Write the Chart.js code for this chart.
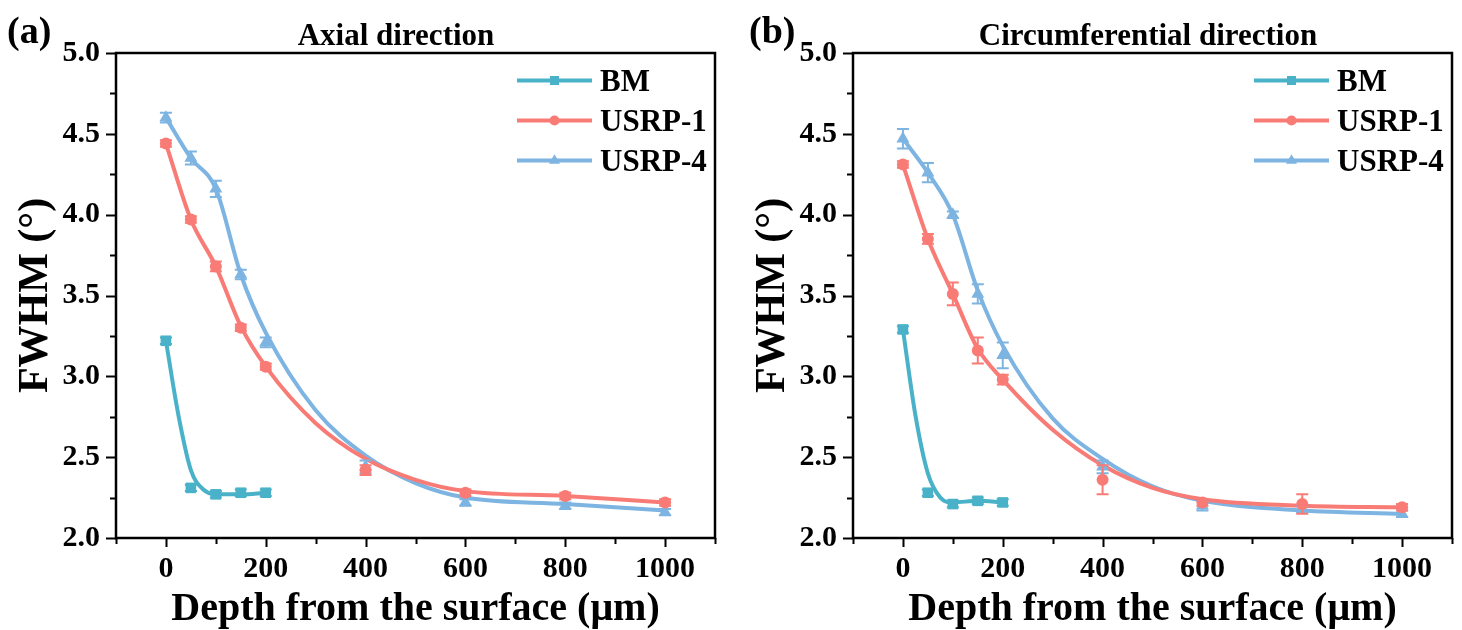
<!DOCTYPE html>
<html><head><meta charset="utf-8">
<script src="https://cdn.jsdelivr.net/npm/chart.js@4.4.1/dist/chart.umd.min.js"></script>
<style>
html,body{margin:0;padding:0;background:#fff;width:1462px;height:630px;overflow:hidden}
.w{position:absolute;top:0;width:725px;height:630px}
#wa{left:0}
#wb{left:737px}
</style></head><body>
<div class="w" id="wa"><canvas id="ca" width="725" height="630"></canvas></div>
<div class="w" id="wb"><canvas id="cb" width="725" height="630"></canvas></div>
<script>
// ---------- data ----------
const depth = [0, 50, 100, 150, 200, 400, 600, 800, 1000];
const bmDepth = [0, 50, 100, 150, 200];
const bmCurveDepth = [0, 25, 50, 75, 100, 150, 200];
const curveDepth = [0, 50, 100, 150, 200, 300, 400, 500, 600, 800, 1000];
const xTickValues = [0, 200, 400, 600, 800, 1000];
const yTickValues = [2.0, 2.5, 3.0, 3.5, 4.0, 4.5, 5.0];
const seriesNames = ['BM', 'USRP-1', 'USRP-4'];

// (a) Axial direction
const aBM = [3.22, 2.31, 2.27, 2.28, 2.28];
const aBMErr = [0.02, 0.02, 0.02, 0.02, 0.02];
const aBMCurve = [3.22, 2.76, 2.42, 2.30, 2.27, 2.27, 2.28];
const aU1 = [4.44, 3.97, 3.68, 3.30, 3.06, 2.42, 2.28, 2.26, 2.22];
const aU1Err = [0.02, 0.02, 0.03, 0.02, 0.02, 0.03, 0.02, 0.02, 0.02];
const aU1Curve = [4.44, 3.97, 3.68, 3.31, 3.06, 2.71, 2.49, 2.36, 2.29, 2.26, 2.22];
const aU4 = [4.60, 4.35, 4.16, 3.63, 3.21, 2.44, 2.22, 2.20, 2.16];
const aU4Err = [0.03, 0.04, 0.05, 0.03, 0.03, 0.04, 0.02, 0.02, 0.02];
const aU4Curve = [4.60, 4.35, 4.16, 3.63, 3.27, 2.79, 2.51, 2.34, 2.25, 2.21, 2.17];

// (b) Circumferential direction
const bBM = [3.29, 2.28, 2.21, 2.23, 2.22];
const bBMErr = [0.02, 0.02, 0.02, 0.02, 0.02];
const bBMCurve = [3.29, 2.76, 2.40, 2.25, 2.22, 2.23, 2.22];
const bU1 = [4.31, 3.85, 3.51, 3.16, 2.98, 2.36, 2.22, 2.21, 2.19];
const bU1Err = [0.02, 0.03, 0.07, 0.08, 0.03, 0.09, 0.02, 0.06, 0.02];
const bU1Curve = [4.31, 3.85, 3.51, 3.17, 2.98, 2.67, 2.45, 2.31, 2.24, 2.20, 2.19];
const bU4 = [4.47, 4.26, 4.00, 3.51, 3.13, 2.44, 2.20, 2.18, 2.15];
const bU4Err = [0.06, 0.06, 0.02, 0.06, 0.08, 0.04, 0.03, 0.02, 0.02];
const bU4Curve = [4.47, 4.26, 4.00, 3.53, 3.19, 2.74, 2.49, 2.32, 2.23, 2.17, 2.15];

// ---------- styles ----------
const FONT = '"Liberation Serif", "DejaVu Serif", "Times New Roman", serif';
const COLORS = {'BM': '#4ab2c8', 'USRP-1': '#f97b76', 'USRP-4': '#7db4e1'};
const PSTYLE = {'BM': 'rect', 'USRP-1': 'circle', 'USRP-4': 'triangle'};
const PRAD = {'BM': 7.5, 'USRP-1': 6, 'USRP-4': 7.5};

function pts(xs, ys) { return xs.map((x, i) => ({x: x, y: ys[i]})); }

const errorBarPlugin = {
  id: 'errbars',
  afterDatasetDraw(chart, args) {
    const ds = chart.data.datasets[args.index];
    if (!ds.errors) return;
    const ctx = chart.ctx, xs = chart.scales.x, ys = chart.scales.y;
    ctx.save();
    ctx.strokeStyle = ds.borderColor;
    ctx.lineWidth = 2;
    ds.data.forEach((p, i) => {
      const e = ds.errors[i];
      const px = xs.getPixelForValue(p.x);
      const y1 = ys.getPixelForValue(p.y + e), y2 = ys.getPixelForValue(p.y - e);
      ctx.beginPath();
      ctx.moveTo(px, y1); ctx.lineTo(px, y2);
      ctx.moveTo(px - 6, y1); ctx.lineTo(px + 6, y1);
      ctx.moveTo(px - 6, y2); ctx.lineTo(px + 6, y2);
      ctx.stroke();
    });
    ctx.restore();
  }
};

const decoPlugin = {
  id: 'deco',
  afterDraw(chart) {
    const o = chart.options.plugins.deco;
    const ctx = chart.ctx, a = chart.chartArea, xs = chart.scales.x, ys = chart.scales.y;
    ctx.save();
    ctx.strokeStyle = '#000';
    ctx.lineWidth = 2.5;
    ctx.strokeRect(a.left, a.top, a.right - a.left, a.bottom - a.top);
    ctx.lineWidth = 2;
    ctx.beginPath();
    for (let v = 2.0; v <= 5.0001; v += 0.25) {
      const py = Math.round(ys.getPixelForValue(v)) + 0.5;
      const major = Math.abs(v * 2 - Math.round(v * 2)) < 1e-6;
      ctx.moveTo(a.left, py); ctx.lineTo(a.left - (major ? 10 : 6), py);
    }
    for (let v = -100; v <= 1100; v += 100) {
      const px = Math.round(xs.getPixelForValue(v)) + 0.5;
      const major = v % 200 === 0;
      ctx.moveTo(px, a.bottom); ctx.lineTo(px, a.bottom + (major ? 9 : 6));
    }
    ctx.stroke();
    ctx.fillStyle = '#000';
    ctx.font = 'bold 38px ' + FONT;
    ctx.textAlign = 'left'; ctx.textBaseline = 'alphabetic';
    ctx.fillText(o.label, o.labelX, 43);
    ctx.font = 'bold 31px ' + FONT;
    ctx.textAlign = 'center';
    ctx.fillText(o.title, o.titleX, 45);
    ctx.font = 'bold 40px ' + FONT;
    ctx.fillText('Depth from the surface (\u03bcm)', (a.left + a.right) / 2, 620);
    ctx.save();
    ctx.translate(47, (a.top + a.bottom) / 2);
    ctx.rotate(-Math.PI / 2);
    ctx.font = 'bold 42px ' + FONT;
    ctx.fillText('FWHM (\u00b0)', 0, 0);
    ctx.restore();
    const rows = [80.5, 120.5, 160.5];
    seriesNames.forEach((n, i) => {
      const y = rows[i];
      ctx.strokeStyle = COLORS[n];
      ctx.fillStyle = COLORS[n];
      ctx.lineWidth = 4;
      ctx.beginPath(); ctx.moveTo(517, y); ctx.lineTo(592, y); ctx.stroke();
      Chart.helpers.drawPoint(ctx, {pointStyle: PSTYLE[n], radius: PRAD[n] * 0.85, rotation: 0, borderWidth: 0}, 554.5, y);
      ctx.fillStyle = '#000';
      ctx.font = 'bold 31px ' + FONT;
      ctx.textAlign = 'left';
      ctx.fillText(n, 600, y + 10.5);
    });
    ctx.restore();
  }
};

function makeChart(id, p) {
  const curves = [
    {name: 'BM', xs: bmCurveDepth, ys: p.bmCurve},
    {name: 'USRP-1', xs: curveDepth, ys: p.u1Curve},
    {name: 'USRP-4', xs: curveDepth, ys: p.u4Curve}
  ];
  const marks = [
    {name: 'BM', xs: bmDepth, ys: p.bm, err: p.bmErr},
    {name: 'USRP-1', xs: depth, ys: p.u1, err: p.u1Err},
    {name: 'USRP-4', xs: depth, ys: p.u4, err: p.u4Err}
  ];
  const datasets = [];
  curves.forEach(c => datasets.push({
    label: c.name + ' fit', data: pts(c.xs, c.ys), showLine: true,
    borderColor: COLORS[c.name], borderWidth: 4, pointRadius: 0,
    cubicInterpolationMode: 'monotone', order: 2, fill: false
  }));
  marks.forEach(m => datasets.push({
    label: m.name, data: pts(m.xs, m.ys), showLine: false,
    borderColor: COLORS[m.name], backgroundColor: COLORS[m.name],
    pointStyle: PSTYLE[m.name], pointRadius: PRAD[m.name], pointBorderWidth: 0,
    errors: m.err, order: 1
  }));
  const tickFont = {family: FONT, size: 30, weight: 'bold'};
  return new Chart(document.getElementById(id), {
    type: 'scatter',
    data: {datasets: datasets},
    options: {
      responsive: false, animation: false, events: [],
      font: {family: FONT},
      layout: {padding: {left: 0, top: 53, right: 10, bottom: 0}},
      plugins: {legend: {display: false}, tooltip: {enabled: false},
        deco: {label: p.label, labelX: p.labelX, title: p.title, titleX: p.titleX}},
      scales: {
        x: {type: 'linear', min: -100, max: 1100,
          grid: {display: false, drawTicks: false}, border: {display: false},
          afterBuildTicks: s => { s.ticks = xTickValues.map(v => ({value: v})); },
          afterFit: s => { s.height = 92; },
          ticks: {font: tickFont, color: '#000', padding: 13, maxRotation: 0, autoSkip: false,
            callback: v => String(v)}},
        y: {type: 'linear', min: 2, max: 5,
          grid: {display: false, drawTicks: false}, border: {display: false},
          afterBuildTicks: s => { s.ticks = yTickValues.map(v => ({value: v})); },
          afterFit: s => { s.width = 116; },
          ticks: {font: tickFont, color: '#000', padding: 16, autoSkip: false,
            callback: v => Number(v).toFixed(1)}}
      }
    },
    plugins: [errorBarPlugin, decoPlugin]
  });
}

makeChart('ca', {label: '(a)', labelX: 7, title: 'Axial direction', titleX: 396,
  bm: aBM, bmErr: aBMErr, bmCurve: aBMCurve, u1: aU1, u1Err: aU1Err, u1Curve: aU1Curve,
  u4: aU4, u4Err: aU4Err, u4Curve: aU4Curve});
makeChart('cb', {label: '(b)', labelX: 12, title: 'Circumferential direction', titleX: 411,
  bm: bBM, bmErr: bBMErr, bmCurve: bBMCurve, u1: bU1, u1Err: bU1Err, u1Curve: bU1Curve,
  u4: bU4, u4Err: bU4Err, u4Curve: bU4Curve});
</script>
</body></html>
